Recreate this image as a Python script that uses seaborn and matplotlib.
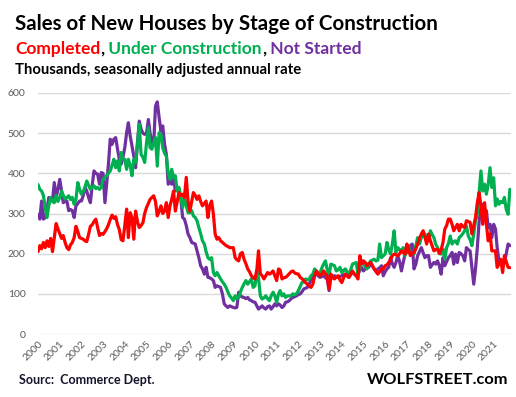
import pandas as pd
import seaborn as sns
import matplotlib.pyplot as plt

# monthly values, Jan 2000 - Oct 2021, thousands (SAAR)
completed = (
    [205, 220, 212, 228, 215, 232, 218, 238, 205, 240, 275, 262]    # 2000
    + [250, 238, 245, 228, 215, 210, 222, 228, 240, 268, 255, 240]  # 2001
    + [238, 236, 232, 230, 248, 268, 272, 280, 286, 265, 245, 250]  # 2002
    + [248, 255, 262, 272, 285, 296, 288, 292, 272, 260, 235, 232]  # 2003
    + [270, 311, 240, 302, 290, 236, 306, 280, 265, 270, 277, 300]  # 2004
    + [315, 325, 335, 340, 344, 330, 294, 305, 319, 300, 306, 327]  # 2005
    + [290, 320, 335, 356, 306, 330, 352, 345, 348, 340, 390, 330]  # 2006
    + [306, 330, 352, 345, 335, 344, 330, 319, 325, 331, 290, 320]  # 2007
    + [331, 298, 249, 236, 240, 232, 228, 224, 220, 218, 215, 215]  # 2008
    + [215, 190, 185, 182, 200, 203, 186, 175, 162, 155, 145, 140]  # 2009
    + [137, 160, 207, 150, 145, 137, 145, 153, 149, 152, 157, 145]  # 2010
    + [133, 162, 159, 137, 140, 141, 145, 150, 155, 157, 152, 150]  # 2011
    + [149, 141, 138, 133, 128, 124, 120, 116, 124, 145, 157, 150]  # 2012
    + [145, 150, 157, 150, 145, 112, 149, 140, 137, 142, 145, 135]  # 2013
    + [128, 140, 149, 145, 141, 150, 157, 149, 145, 137, 195, 175]  # 2014
    + [182, 178, 170, 175, 178, 170, 162, 155, 149, 155, 162, 162]  # 2015
    + [170, 172, 178, 185, 195, 199, 197, 195, 200, 207, 203, 199]  # 2016
    + [224, 210, 195, 200, 203, 212, 224, 238, 249, 257, 240, 224]  # 2017
    + [249, 232, 220, 207, 210, 211, 200, 210, 228, 261, 270, 286]  # 2018
    + [286, 273, 257, 265, 273, 257, 273, 268, 265, 282, 280, 278]  # 2019
    + [249, 270, 290, 327, 352, 319, 273, 327, 273, 232, 249, 207]  # 2020
    + [207, 207, 166, 175, 186, 153, 195, 180, 166, 165]            # 2021
)

under_construction = (
    [372, 360, 356, 345, 315, 290, 320, 340, 330, 327, 345, 330]
    + [340, 356, 345, 336, 340, 344, 335, 340, 323, 335, 377, 360]
    + [348, 355, 365, 381, 370, 360, 365, 369, 362, 365, 360, 365]
    + [385, 390, 394, 400, 406, 420, 435, 414, 431, 406, 452, 435]
    + [435, 410, 435, 420, 394, 435, 427, 470, 522, 447, 440, 427]
    + [476, 514, 464, 460, 475, 489, 418, 501, 497, 464, 450, 443]
    + [400, 385, 410, 389, 394, 356, 365, 340, 315, 340, 320, 302]
    + [302, 307, 294, 290, 282, 265, 250, 232, 224, 205, 190, 186]
    + [190, 153, 145, 153, 145, 137, 130, 124, 116, 105, 95, 90]
    + [83, 95, 88, 91, 105, 116, 125, 133, 124, 130, 137, 116]
    + [120, 157, 140, 95, 87, 90, 95, 88, 83, 95, 104, 95]
    + [79, 100, 108, 95, 100, 91, 95, 95, 95, 100, 98, 100]
    + [108, 118, 128, 130, 137, 135, 137, 145, 149, 162, 155, 149]
    + [153, 165, 174, 182, 160, 145, 174, 172, 170, 157, 160, 166]
    + [153, 158, 162, 155, 149, 160, 174, 176, 178, 149, 165, 182]
    + [174, 168, 162, 174, 182, 184, 186, 182, 184, 224, 190, 195]
    + [199, 228, 210, 199, 224, 257, 203, 215, 210, 207, 215, 195]
    + [220, 215, 199, 200, 199, 220, 240, 224, 240, 245, 249, 240]
    + [232, 257, 248, 240, 224, 215, 207, 199, 211, 186, 215, 225]
    + [244, 224, 230, 232, 224, 240, 244, 250, 257, 269, 244, 235]
    + [220, 249, 282, 298, 350, 406, 356, 373, 348, 373, 414, 365]
    + [389, 319, 336, 323, 330, 327, 340, 310, 298, 360]
)

not_started = (
    [298, 286, 331, 286, 290, 310, 340, 335, 331, 377, 340, 360]
    + [385, 356, 327, 330, 331, 307, 310, 307, 290, 319, 325, 331]
    + [331, 345, 365, 356, 340, 327, 370, 406, 400, 398, 373, 402]
    + [400, 327, 373, 423, 485, 472, 485, 489, 460, 435, 423, 440]
    + [464, 501, 526, 493, 468, 443, 414, 476, 530, 510, 500, 497]
    + [500, 534, 501, 476, 472, 567, 578, 539, 505, 518, 472, 447]
    + [373, 380, 373, 389, 356, 360, 356, 336, 290, 286, 270, 249]
    + [240, 228, 226, 224, 207, 190, 170, 162, 149, 166, 141, 140]
    + [137, 133, 116, 120, 118, 116, 100, 75, 70, 66, 70, 68]
    + [66, 65, 66, 104, 95, 92, 91, 88, 91, 85, 83, 80]
    + [79, 70, 62, 66, 70, 65, 62, 68, 70, 62, 68, 75]
    + [70, 75, 72, 66, 70, 79, 80, 83, 88, 91, 93, 95]
    + [98, 100, 105, 112, 114, 116, 125, 133, 140, 145, 149, 145]
    + [141, 143, 145, 140, 137, 108, 141, 143, 145, 143, 141, 143]
    + [145, 147, 149, 145, 141, 148, 153, 150, 145, 149, 158, 166]
    + [157, 162, 174, 166, 178, 170, 162, 157, 162, 165, 170, 145]
    + [155, 162, 166, 190, 175, 166, 178, 195, 180, 157, 178, 199]
    + [203, 210, 220, 224, 162, 174, 195, 205, 215, 203, 190, 195]
    + [195, 166, 172, 178, 174, 182, 170, 149, 190, 170, 180, 190]
    + [195, 203, 174, 199, 178, 203, 200, 195, 182, 215, 210, 207]
    + [166, 124, 162, 215, 280, 315, 323, 294, 307, 265, 273, 240]
    + [273, 261, 215, 182, 178, 170, 178, 200, 224, 220]
)

years = list(range(2000, 2022))
stages = ['Completed', 'Under Construction', 'Not Started']
colors = {'Completed': '#ff0000', 'Under Construction': '#00b050', 'Not Started': '#7030a0'}

months = pd.date_range('2000-01-01', periods=len(completed), freq='MS')
df = pd.DataFrame({'month': months,
                   'Completed': completed,
                   'Under Construction': under_construction,
                   'Not Started': not_started})
long_df = df.melt(id_vars='month', var_name='stage', value_name='sales')

sns.set_theme(style='white')
plt.rcParams['font.family'] = ['Lato', 'DejaVu Sans']

W, H = 516, 397
fig = plt.figure(figsize=(W / 100, H / 100), dpi=100)
ax = fig.add_axes([38 / W, 63 / H, 473 / W, 241 / H])

# red drawn last so it sits on top, like the original
sns.lineplot(data=long_df, x='month', y='sales', hue='stage',
             hue_order=stages[::-1], palette=colors, linewidth=2.3,
             legend=False, ax=ax)

ax.set_ylim(0, 600)
ax.set_yticks(range(0, 601, 100))
ax.set_xlim(pd.Timestamp('2000-01-01'), pd.Timestamp('2021-10-20'))
ax.set_xticks([pd.Timestamp(f'{y}-01-01') for y in years])
ax.set_xticklabels([str(y) for y in years], rotation=45, ha='right',
                   rotation_mode='anchor')
ax.yaxis.grid(True, color='#d9d9d9', linewidth=1)
ax.set_axisbelow(True)
for s in ax.spines.values():
    s.set_visible(False)
ax.tick_params(axis='both', length=0, labelsize=7.5, colors='#595959')
ax.tick_params(axis='y', pad=9)
ax.tick_params(axis='x', pad=4)
ax.set_xlabel('')
ax.set_ylabel('')

# headings
fig.text(15 / W, 1 - 30 / H, 'Sales of New Houses by Stage of Construction',
         fontsize=14.8, fontweight='bold', color='black', va='baseline')

fig.canvas.draw()
renderer = fig.canvas.get_renderer()
x = 15
pieces = [('Completed', colors['Completed']), (',', 'black'),
          (' Under Construction', colors['Under Construction']), (',', 'black'),
          (' Not Started', colors['Not Started'])]
for text, col in pieces:
    t = fig.text(x / W, 1 - 54 / H, text, fontsize=12.5, fontweight='bold',
                 color=col, va='baseline')
    x = t.get_window_extent(renderer=renderer).x1

fig.text(15 / W, 1 - 74 / H, 'Thousands, seasonally adjusted annual rate',
         fontsize=10.7, fontweight='bold', color='black', va='baseline')

fig.text(19 / W, 1 - 384 / H, 'Sourc:  Commerce Dept.', fontsize=9,
         fontweight='bold', color='#14142b', va='baseline')
fig.text(508 / W, 1 - 384 / H, 'WOLFSTREET.com', fontsize=11.8,
         fontweight='bold', color='black', va='baseline', ha='right')

fig.savefig('out.png', dpi=100)
